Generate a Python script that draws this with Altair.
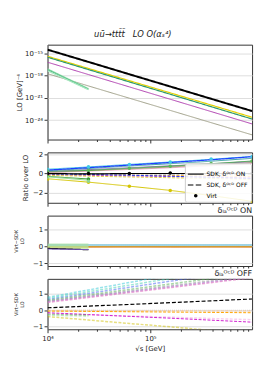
import altair as alt
import pandas as pd

SQRT_S = [10000, 25000, 62500, 156250, 390625, 976562]

# ---- Panel 1: LO cross sections (log10 of value, read at each sqrt(s)) ----
LO_LOG10 = {
    "black": [-14.51, -16.16, -17.82, -19.47, -21.12, -22.77],
    "yellow": [-15.40, -17.04, -18.68, -20.32, -21.96, -23.60],
    "green": [-15.53, -17.19, -18.85, -20.51, -22.18, -23.84],
    "magenta": [-16.20, -17.86, -19.52, -21.18, -22.84, -24.50],
    "olive": [-17.75, -19.39, -21.04, -22.68, -24.33, -25.97],
    "lg1": [-17.10, -19.75],
    "lg2": [-17.20, -19.84],
    "lg3": [-17.35, -19.90],
}
LO_STYLE = {
    "black": ("#000000", [1, 0], 2.0, 1.0),
    "yellow": ("#e6d200", [1, 0], 1.2, 1.0),
    "green": ("#2f9a6a", [1, 0], 1.2, 1.0),
    "magenta": ("#b040b0", [1, 0], 1.0, 1.0),
    "olive": ("#a0a088", [1, 0], 1.0, 1.0),
    "lg1": ("#8fdca8", [1, 0], 1.2, 1.0),
    "lg2": ("#5cc08a", [1, 0], 1.2, 1.0),
    "lg3": ("#a8e8c0", [1, 0], 1.2, 1.0),
}

# ---- Panel 2: ratio over LO ----
RATIO = {
    "pink": [0.08, 0.25, 0.42, 0.60, 0.80, 1.05],
    "olive": [0.12, 0.30, 0.48, 0.68, 0.90, 1.15],
    "purple": [0.20, 0.40, 0.60, 0.80, 1.00, 1.25],
    "green": [0.22, 0.32, 0.55, 0.76, 1.02, 1.30],
    "teal": [0.30, 0.52, 0.78, 1.02, 1.28, 1.58],
    "cyan": [0.45, 0.68, 0.95, 1.20, 1.48, 1.78],
    "blue": [0.35, 0.61, 0.88, 1.15, 1.43, 1.75],
    "gray_d": [0.00, -0.02, -0.04, -0.06, -0.08, -0.10],
    "orange_d": [-0.10, -0.14, -0.18, -0.22, -0.26, -0.30],
    "magenta_d": [-0.15, -0.20, -0.26, -0.32, -0.38, -0.45],
    "yellow_d": [-0.20, -0.28, -0.36, -0.44, -0.52, -0.60],
    "blue_d": [-0.05, -0.10, -0.18, -0.28, -0.40, -0.52],
    "black": [0.00, -0.05, 0.00, 0.00, 0.00, 0.00],
    "yellow": [-0.55, -0.90, -1.32, -1.76, -2.30, -2.90],
    "green2": [-0.30, -0.57],
    "lightgreen": [-0.35, -0.70],
}
RATIO_STYLE = {
    "pink": ("#e8a0c8", [1, 0], 1.0, 1.0),
    "olive": ("#a8a070", [1, 0], 1.0, 1.0),
    "purple": ("#9a60c0", [1, 0], 1.0, 1.0),
    "green": ("#4caf50", [1, 0], 1.0, 1.0),
    "teal": ("#3aa0a0", [1, 0], 1.0, 1.0),
    "cyan": ("#3cc4e0", [1, 0], 1.0, 1.0),
    "blue": ("#1f3fff", [1, 0], 1.2, 1.0),
    "gray_d": ("#a0a0a0", [3, 1.5], 1.0, 1.0),
    "orange_d": ("#ffa500", [3, 1.5], 1.0, 1.0),
    "magenta_d": ("#d040d0", [3, 1.5], 1.0, 1.0),
    "yellow_d": ("#e0d040", [3, 1.5], 1.0, 1.0),
    "blue_d": ("#2040ff", [3, 1.5], 1.0, 1.0),
    "black": ("#000000", [1, 0], 1.2, 1.0),
    "yellow": ("#d4c400", [1, 0], 1.0, 1.0),
    "green2": ("#3a9a3a", [1, 0], 1.0, 1.0),
    "lightgreen": ("#90d890", [1, 0], 1.0, 1.0),
}
VIRT = {
    "cyan": [0.45, 0.70, 0.95, 1.19, 1.50, 1.78],
    "green": [0.25, 0.32, 0.55, 0.75, 1.05, 1.30],
    "black": [0.00, 0.00, 0.00, 0.04, 0.00, 0.00],
    "yellow": [-0.60, -0.90, -1.32, -1.76, -2.30, -2.95],
    "green2": [-0.30, -0.57],
    "lightgreen": [-0.40, -0.80],
}
VIRT_COLOR = {
    "cyan": "#40c8e8", "green": "#5cb85c", "black": "#000000",
    "yellow": "#d4c400", "green2": "#3a9a3a", "lightgreen": "#90d890",
}

# ---- Panel 3: (Virt-SDK)/LO, delta ON ----
DIFF_ON = {
    "gold": [0.00, 0.00, 0.00, 0.00, 0.00, 0.00],
    "orange": [-0.03, -0.03, -0.03, -0.03, -0.03, -0.03],
    "cyan": [0.10, 0.10, 0.10, 0.10, 0.10, 0.10],
    "lg1": [0.08, 0.08],
    "lg2": [-0.06, -0.08],
    "black": [-0.10, -0.18],
    "purple": [-0.14, -0.17],
}
DIFF_ON_STYLE = {
    "gold": ("#c8a030", [1, 0], 1.2, 1.0),
    "orange": ("#e89040", [1, 0], 1.0, 1.0),
    "cyan": ("#40a8c8", [1, 0], 1.2, 1.0),
    "lg1": ("#a8e0a0", [1, 0], 4.0, 0.7),
    "lg2": ("#c0e890", [1, 0], 3.0, 0.7),
    "black": ("#000000", [1, 0], 1.2, 1.0),
    "purple": ("#8060d0", [1, 0], 1.0, 1.0),
}

# ---- Panel 4: (Virt-SDK)/LO, delta OFF ----
DIFF_OFF = {
    "c1": [0.78, 1.23, 1.68, 2.13, 2.58, 3.03],
    "c2": [0.72, 1.12, 1.52, 1.92, 2.32, 2.72],
    "blue": [0.65, 1.02, 1.39, 1.76, 2.13, 2.50],
    "green": [0.60, 0.93, 1.26, 1.59, 1.92, 2.25],
    "gray": [0.55, 0.86, 1.17, 1.48, 1.79, 2.10],
    "purple": [0.52, 0.82, 1.12, 1.42, 1.72, 2.02],
    "pink": [0.47, 0.77, 1.07, 1.37, 1.67, 1.97],
    "zero": [0.00, 0.00, 0.00, 0.00, 0.00, 0.00],
    "peach": [-0.02, -0.02, -0.03, -0.03, -0.04, -0.04],
    "orange": [-0.05, -0.07, -0.09, -0.11, -0.13, -0.15],
    "lpink": [-0.20, -0.28, -0.35, -0.42, -0.50, -0.57],
    "magenta": [-0.15, -0.26, -0.37, -0.48, -0.60, -0.72],
    "yellow": [-0.38, -0.59, -0.80, -1.00, -1.22, -1.43],
    "green2": [-0.25, -0.30],
    "lgreen": [-0.30, -0.36],
    "black": [0.15, 0.25, 0.35, 0.46, 0.57, 0.68],
}
DIFF_OFF_STYLE = {
    "c1": ("#30c8d8", [3, 1.5], 1.5, 0.5),
    "c2": ("#40d0b0", [3, 1.5], 1.5, 0.5),
    "blue": ("#4060f0", [3, 1.5], 1.5, 0.5),
    "green": ("#50b050", [3, 1.5], 1.5, 0.5),
    "gray": ("#909090", [3, 1.5], 1.5, 0.5),
    "purple": ("#a070d0", [3, 1.5], 1.5, 0.5),
    "pink": ("#e070c0", [3, 1.5], 1.5, 0.6),
    "zero": ("#c8c8c8", [1, 1], 1.0, 1.0),
    "peach": ("#ffc080", [3, 1.5], 1.5, 0.5),
    "orange": ("#ffa500", [3, 1.5], 1.0, 1.0),
    "lpink": ("#f0a0e0", [3, 1.5], 1.5, 0.5),
    "magenta": ("#d020d0", [3, 1.5], 1.0, 1.0),
    "yellow": ("#d0c000", [3, 1.5], 1.5, 0.5),
    "green2": ("#50b050", [3, 1.5], 1.5, 0.5),
    "lgreen": ("#a0e0a0", [3, 1.5], 1.5, 0.5),
    "black": ("#000000", [4, 2], 1.2, 1.0),
}

LEG_ON = "SDK, δᴼᶜᴰ ON"
LEG_OFF = "SDK, δᴼᶜᴰ OFF"
LEG_VIRT = "Virt"
NBSP = "\u00a0"
TITLE = "uū→ttt̄t̄" + NBSP * 3 + "LO" + NBSP + "O(αₛ⁴)"


def frame(series, styles, tag, log=False):
    rows = []
    for name, vals in series.items():
        col, dash, w, op = styles[name]
        for x, v in zip(SQRT_S, vals):
            rows.append(dict(s=f"{tag}-{name}", x=x, y=(10 ** v if log else v),
                             col=col, dash=dash, w=w, op=op))
    return pd.DataFrame(rows)


def virt_frame():
    rows = []
    for name, vals in VIRT.items():
        for x, v in zip(SQRT_S, vals):
            rows.append(dict(s=name, x=x, y=v, col=VIRT_COLOR[name], kind=LEG_VIRT))
    return pd.DataFrame(rows)


major_test = "abs(log(datum.value)/LN10 - round(log(datum.value)/LN10)) < 0.001"
XTICKS = [1e4, 2e4, 3e4, 4e4, 5e4, 6e4, 7e4, 8e4, 9e4,
          1e5, 2e5, 3e5, 4e5, 5e5, 6e5, 7e5, 8e5, 9e5]


def xenc(bottom=False):
    ax = dict(values=XTICKS,
              tickSize={"condition": {"test": major_test, "value": 3.5}, "value": 2},
              grid=False, domain=False)
    if bottom:
        ax.update(labelExpr="datum.value == 10000 ? '10⁴' : datum.value == 100000 ? '10⁵' : ''",
                  title="√s [GeV]", labelFlush=False, labelOverlap=False)
    else:
        ax.update(labels=False, title=None)
    return alt.X("x:Q", scale=alt.Scale(type="log", domain=[1e4, 976562], nice=False),
                 axis=alt.Axis(**ax))


def lines(df, yenc, bottom=False):
    return alt.Chart(df).mark_line(clip=True).encode(
        x=xenc(bottom),
        y=yenc,
        detail="s:N",
        order="x:Q",
        color=alt.Color("col:N", scale=None),
        strokeDash=alt.StrokeDash(field="dash", type="nominal", scale=None),
        strokeWidth=alt.StrokeWidth("w:Q", scale=None),
        opacity=alt.Opacity("op:Q", scale=None),
    )


W = 207

# Panel 1
y1 = alt.Y("y:Q", scale=alt.Scale(type="log", domain=[10 ** -26.6, 10 ** -13.84], nice=False),
           axis=alt.Axis(values=[1e-15, 1e-18, 1e-21, 1e-24], title="LO [GeV]⁻⁴",
                         labelExpr="datum.value > 1e-16 ? '10⁻¹⁵' : datum.value > 1e-19 ? '10⁻¹⁸' : datum.value > 1e-22 ? '10⁻²¹' : '10⁻²⁴'",
                         titlePadding=2, tickSize=3.5))
p1 = lines(frame(LO_LOG10, LO_STYLE, "lo", log=True), y1).properties(width=W, height=96)

# Panel 2
y2 = alt.Y("y:Q", scale=alt.Scale(domain=[-3.05, 2.2], nice=False),
           axis=alt.Axis(values=[-2, 0, 2], title="Ratio over LO", titlePadding=4, tickSize=3.5))
p2_lines = lines(frame(RATIO, RATIO_STYLE, "r"), y2)

SOLID_PATH = "M-1,-0.07H1V0.07H-1Z"
DASH_PATH = "M-1,-0.07H-0.3V0.07H-1Z M0.0,-0.07H0.7V0.07H0.0Z"
DOT_PATH = "M-0.22,0A0.22,0.22,0,1,0,0.22,0A0.22,0.22,0,1,0,-0.22,0Z"

p2_pts = alt.Chart(virt_frame()).mark_point(filled=True, size=256, opacity=1, clip=True).encode(
    x=xenc(),
    y=y2,
    color=alt.Color("col:N", scale=None),
    shape=alt.Shape("kind:N",
                    scale=alt.Scale(domain=[LEG_ON, LEG_OFF, LEG_VIRT],
                                    range=[SOLID_PATH, DASH_PATH, DOT_PATH]),
                    legend=alt.Legend(orient="bottom-right", title=None, offset=1,
                                      fillColor="rgba(255,255,255,0.85)", strokeColor="#cccccc",
                                      padding=3, cornerRadius=2, labelFontSize=6,
                                      symbolSize=256, symbolFillColor="black",
                                      symbolStrokeColor="black", symbolStrokeWidth=0,
                                      rowPadding=0, labelOffset=3, symbolOpacity=1)),
)
p2 = alt.layer(p2_lines, p2_pts).properties(width=W, height=51)

# Panel 3
fracax = dict(values=[-1, 0, 1], title=["Virt−SDK", "LO"], titleFontSize=5,
              titleLineHeight=6, titlePadding=8, tickSize=3.5)
y3 = alt.Y("y:Q", scale=alt.Scale(domain=[-1.15, 1.85], nice=False), axis=alt.Axis(**fracax))
p3 = lines(frame(DIFF_ON, DIFF_ON_STYLE, "on"), y3).properties(
    width=W, height=51,
    title=alt.TitleParams("δₗₐᴼᶜᴰ ON", anchor="end", fontSize=8, offset=1, fontWeight="normal"))

# Panel 4
y4 = alt.Y("y:Q", scale=alt.Scale(domain=[-1.15, 1.9], nice=False), axis=alt.Axis(**fracax))
p4 = lines(frame(DIFF_OFF, DIFF_OFF_STYLE, "off"), y4, bottom=True).properties(
    width=W, height=51,
    title=alt.TitleParams("δₗₐᴼᶜᴰ OFF", anchor="end", fontSize=8, offset=1, fontWeight="normal"))

chart = alt.vconcat(p1, p2, p3, p4, spacing=13, bounds="flush").properties(
    title=alt.TitleParams(TITLE, anchor="middle", fontSize=8.5, fontStyle="italic",
                          fontWeight="normal", offset=6),
    padding={"left": 5, "top": 20, "right": 5, "bottom": 5},
).resolve_scale(shape="independent").configure(
    font="DejaVu Sans",
).configure_axis(
    labelFontSize=7, titleFontSize=7, titleFontWeight="normal", tickColor="#333333",
    labelColor="#222222", titleColor="#222222", labelPadding=1.5,
).configure_view(
    stroke="#333333", strokeWidth=1,
).configure_title(
    color="#222222",
)

chart.save("out.html", embed_options={"renderer": "svg", "actions": False})
